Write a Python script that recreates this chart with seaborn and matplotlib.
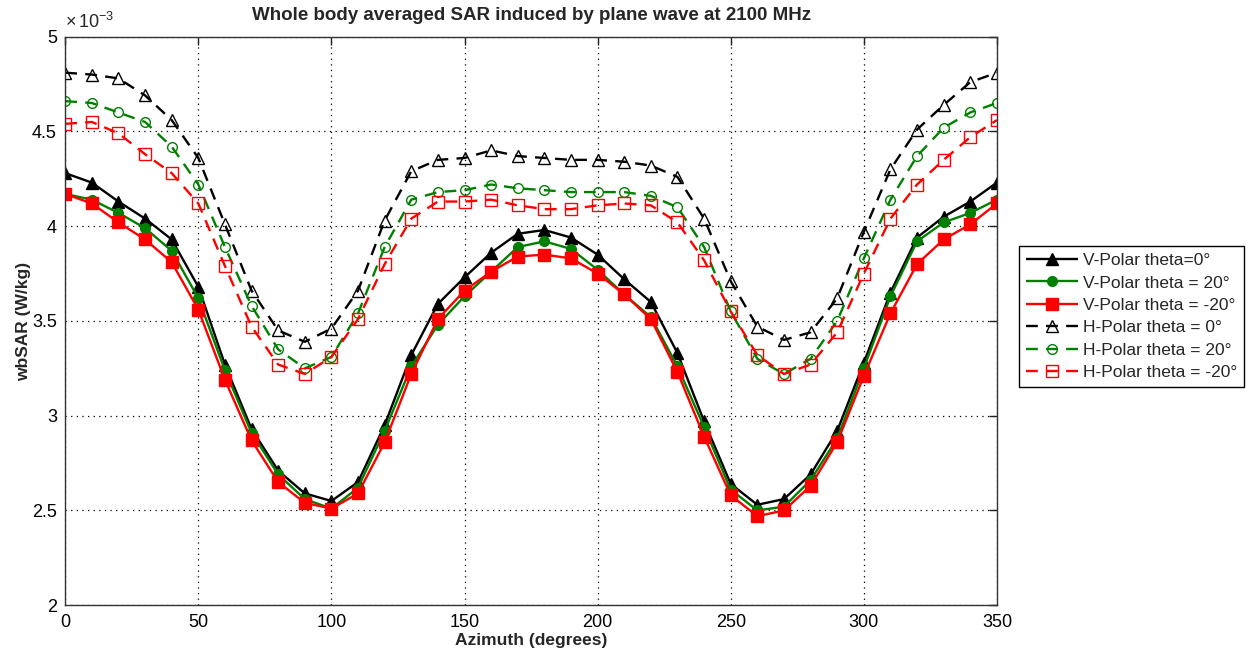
import numpy as np
import pandas as pd
import matplotlib
matplotlib.use("Agg")
import matplotlib.pyplot as plt
import seaborn as sns
from matplotlib.ticker import FuncFormatter

# azimuth angles (degrees)
azimuth = list(range(0, 360, 10))

# wbSAR values, in units of 1e-3 W/kg
v_theta0 = [4.28, 4.23, 4.13, 4.04, 3.93, 3.68, 3.27, 2.93, 2.71, 2.59, 2.55, 2.65,
            2.95, 3.32, 3.59, 3.73, 3.86, 3.96, 3.98, 3.94, 3.85, 3.72, 3.60, 3.33,
            2.97, 2.64, 2.53, 2.56, 2.69, 2.92, 3.28, 3.65, 3.94, 4.05, 4.13, 4.23]
v_theta20 = [4.17, 4.14, 4.07, 3.99, 3.87, 3.62, 3.24, 2.91, 2.69, 2.56, 2.51, 2.62,
             2.92, 3.26, 3.48, 3.63, 3.76, 3.89, 3.92, 3.88, 3.77, 3.64, 3.52, 3.26,
             2.94, 2.61, 2.50, 2.52, 2.66, 2.88, 3.25, 3.63, 3.92, 4.02, 4.07, 4.14]
v_theta_m20 = [4.17, 4.12, 4.02, 3.93, 3.81, 3.56, 3.19, 2.87, 2.65, 2.54, 2.51, 2.59,
               2.86, 3.22, 3.51, 3.66, 3.76, 3.84, 3.85, 3.83, 3.75, 3.64, 3.51, 3.23,
               2.89, 2.58, 2.47, 2.50, 2.63, 2.86, 3.21, 3.54, 3.80, 3.93, 4.01, 4.12]
h_theta0 = [4.81, 4.80, 4.78, 4.69, 4.56, 4.36, 4.01, 3.66, 3.45, 3.39, 3.46, 3.66,
            4.03, 4.29, 4.35, 4.36, 4.40, 4.37, 4.36, 4.35, 4.35, 4.34, 4.32, 4.26,
            4.04, 3.71, 3.47, 3.40, 3.44, 3.62, 3.97, 4.30, 4.51, 4.64, 4.76, 4.81]
h_theta20 = [4.66, 4.65, 4.60, 4.55, 4.42, 4.22, 3.89, 3.58, 3.35, 3.25, 3.31, 3.54,
             3.89, 4.14, 4.18, 4.19, 4.22, 4.20, 4.19, 4.18, 4.18, 4.18, 4.16, 4.10,
             3.89, 3.55, 3.30, 3.22, 3.30, 3.50, 3.83, 4.14, 4.37, 4.52, 4.60, 4.65]
h_theta_m20 = [4.54, 4.55, 4.49, 4.38, 4.28, 4.12, 3.79, 3.47, 3.27, 3.22, 3.31, 3.51,
               3.80, 4.04, 4.13, 4.13, 4.14, 4.11, 4.09, 4.09, 4.11, 4.12, 4.11, 4.02,
               3.82, 3.55, 3.32, 3.22, 3.27, 3.44, 3.75, 4.04, 4.22, 4.35, 4.47, 4.56]

labels = ["V-Polar theta=0°", "V-Polar theta = 20°", "V-Polar theta = -20°",
          "H-Polar theta = 0°", "H-Polar theta = 20°", "H-Polar theta = -20°"]
series = [v_theta0, v_theta20, v_theta_m20, h_theta0, h_theta20, h_theta_m20]

colors = ["black", "green", "red", "black", "green", "red"]
markers = ["^", "o", "s", "^", "o", "s"]
filled = [True, True, True, False, False, False]

rows = []
for lab, vals in zip(labels, series):
    for az, v in zip(azimuth, vals):
        rows.append({"Azimuth": az, "wbSAR": v * 1e-3, "series": lab})
df = pd.DataFrame(rows)

sns.set_style("white")
plt.rcParams["font.family"] = ["Liberation Sans", "DejaVu Sans"]
plt.rcParams["mathtext.fontset"] = "custom"
plt.rcParams["mathtext.rm"] = "Liberation Sans"

fig = plt.figure(figsize=(12.54, 6.55), dpi=100)
ax = fig.add_axes([0.052, 0.076, 0.743, 0.868])

for lab, c, m, f in zip(labels, colors, markers, filled):
    sub = df[df["series"] == lab]
    sns.lineplot(data=sub, x="Azimuth", y="wbSAR", ax=ax, color=c, marker=m,
                 markersize=8 if m != "o" else 7,
                 markerfacecolor=c if f else "none", markeredgecolor=c,
                 markeredgewidth=1.0, linewidth=1.7,
                 dashes=(1, 0) if f else (5, 3.5), label=lab)

ax.set_xlim(0, 350)
ax.set_ylim(2e-3, 5e-3)
ax.set_xticks(np.arange(0, 351, 50))
ax.set_yticks(np.arange(2e-3, 5.01e-3, 0.5e-3))
ax.yaxis.set_major_formatter(FuncFormatter(lambda v, p: f"{v * 1e3:g}"))
ax.text(0.0, 1.008, r"$\times\,10^{-3}$", transform=ax.transAxes, fontsize=13,
        ha="left", va="bottom")

ax.grid(True, color="black", linestyle=(0, (1, 3.5)), linewidth=0.9)
ax.tick_params(direction="in", length=6, width=1, labelsize=13, top=True, right=True,
               pad=6, colors="#222222", labelcolor="black")
for sp in ax.spines.values():
    sp.set_color("#333333")
    sp.set_linewidth(1.0)

ax.set_xlabel("Azimuth (degrees)", fontsize=12.5, fontweight="bold", labelpad=2)
ax.set_ylabel("wbSAR (W/kg)", fontsize=12.5, fontweight="bold", labelpad=1)
ax.set_title("Whole body averaged SAR induced by plane wave at 2100 MHz",
             fontsize=13.5, fontweight="bold", pad=12)

ax.legend(loc="upper left", bbox_to_anchor=(0.8126, 0.6244),
          bbox_transform=fig.transFigure, fontsize=12.5, frameon=True,
          fancybox=False, edgecolor="black", framealpha=1, handlelength=3.0,
          borderpad=0.4, labelspacing=0.42, handletextpad=0.3, borderaxespad=0)

fig.savefig("out.png", dpi=100)
